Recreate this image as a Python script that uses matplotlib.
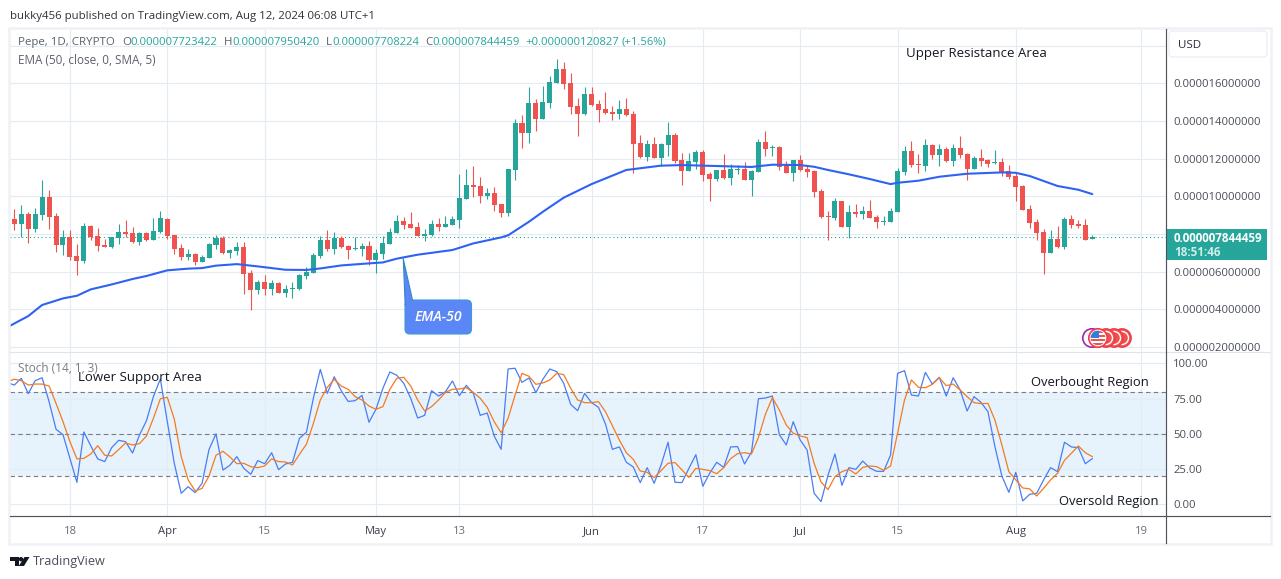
import numpy as np
import matplotlib
matplotlib.use('Agg')
import matplotlib.pyplot as plt
from matplotlib.patches import Rectangle, FancyBboxPatch, Polygon, Circle

plt.rcParams['font.family'] = ['Open Sans', 'DejaVu Sans']

W, H = 1281, 579

# prices are in units of 1e-6. bar 0 = 10 March
bar_open = [8.78,8.53,9.06,8.26,9.01,9.96,8.95,7.41,7.84,6.83,
    6.56,8.42,7.89,7.41,7.31,7.79,8.11,8.05,7.57,8.05,
    7.68,8.11,8.79,7.94,7.25,6.78,6.94,6.51,6.72,7.41,
    7.79,6.99,7.10,7.31,5.93,5.02,5.45,5.08,5.40,4.86,
    5.09,5.08,5.77,5.93,6.83,7.68,7.20,7.79,7.36,7.20,
    7.20,7.36,6.62,6.94,7.47,8.05,8.69,8.53,8.37,7.89,
    7.94,8.53,8.37,8.48,8.74,9.86,10.60,10.55,10.02,10.18,
    9.59,9.11,11.40,13.89,13.36,14.95,14.10,14.95,16.02,16.76,
    16.02,14.80,14.37,15.43,14.90,14.64,14.48,14.37,14.64,14.37,
    12.83,12.09,12.78,12.03,12.72,13.26,11.93,11.34,11.82,12.35,
    11.18,10.92,11.40,10.97,11.41,11.45,10.87,11.29,12.88,12.58,
    12.62,11.66,11.24,11.93,11.45,11.34,10.28,8.95,8.85,9.75,
    8.37,9.17,9.06,9.22,8.90,8.65,8.64,9.17,11.29,12.40,
    11.72,11.61,12.72,12.19,12.51,11.87,12.56,12.25,11.45,12.03,
    11.93,11.77,11.82,11.34,11.08,10.55,9.33,8.64,8.11,6.99,
    7.73,7.31,8.79,8.53,8.48,7.72]
bar_close = [8.53,9.06,8.26,9.06,9.96,8.90,7.41,7.84,6.78,6.56,
    8.42,7.84,7.36,7.31,7.82,8.11,8.00,7.57,8.05,7.68,
    8.16,8.85,7.89,7.20,6.78,6.94,6.51,6.78,7.47,7.79,
    6.99,7.15,7.31,5.87,5.02,5.45,5.08,5.40,4.86,5.08,
    5.13,5.82,5.98,6.88,7.68,7.20,7.79,7.31,7.15,7.25,
    7.36,6.62,6.99,7.52,8.11,8.69,8.48,8.32,7.89,8.00,
    8.53,8.37,8.53,8.79,9.91,10.60,10.49,10.02,10.18,9.54,
    9.11,11.45,13.89,13.36,14.95,14.10,15.01,16.07,16.76,15.96,
    14.74,14.37,15.43,14.85,14.58,14.42,14.37,14.64,14.32,12.78,
    12.09,12.78,12.03,12.78,13.26,11.87,11.34,11.87,12.35,11.13,
    10.92,11.40,10.97,11.45,11.45,10.87,11.34,12.88,12.51,12.62,
    11.56,11.24,11.93,11.40,11.29,10.23,8.90,8.88,9.75,8.37,
    9.17,9.06,9.22,8.85,8.64,8.69,9.22,11.34,12.40,11.66,
    11.66,12.72,12.19,12.51,11.87,12.56,12.19,11.45,12.03,11.87,
    11.72,11.82,11.29,11.02,10.49,9.27,8.58,8.05,6.99,7.73,
    7.31,8.79,8.48,8.42,7.68,7.84]
bar_high = [9.33,9.54,9.15,9.38,10.87,10.34,9.10,8.21,8.21,7.47,
    8.58,8.48,8.32,7.73,7.84,8.53,8.74,8.37,8.11,8.11,
    8.85,9.22,8.85,7.94,7.47,7.20,6.99,6.88,7.52,7.94,
    7.89,7.20,7.57,7.57,6.09,5.56,5.82,5.56,5.45,5.29,
    5.45,5.87,6.25,6.99,7.89,8.21,8.11,7.89,7.41,7.84,
    7.52,7.63,7.20,7.89,8.32,9.01,8.92,9.17,8.64,8.26,
    8.74,8.85,8.95,8.95,11.18,11.45,11.61,11.02,10.44,10.49,
    9.59,11.45,14.10,14.32,15.80,15.17,15.86,16.39,17.29,17.13,
    16.55,15.22,15.80,15.80,15.11,15.54,14.80,15.11,15.22,14.53,
    13.26,12.99,13.15,12.85,13.94,13.36,12.30,12.30,12.46,12.46,
    11.29,11.40,12.25,11.72,11.66,11.82,11.40,13.04,13.47,12.72,
    12.67,11.87,11.93,12.19,11.66,11.40,10.39,9.22,9.91,9.75,
    9.54,9.59,9.48,9.80,9.01,8.95,9.38,11.50,12.67,12.94,
    12.25,13.04,12.78,12.78,12.64,12.78,13.20,12.30,12.14,12.51,
    11.98,12.46,12.03,11.66,11.29,10.60,9.54,8.79,8.26,8.21,
    8.42,8.90,9.01,8.74,8.79,7.95]
bar_low = [8.21,7.86,7.54,8.11,8.74,8.26,7.04,6.88,6.62,5.82,
    6.46,7.68,7.10,7.31,7.25,7.47,7.84,7.52,7.41,7.63,
    7.68,8.05,7.73,6.94,6.62,6.62,6.35,6.51,6.72,7.20,
    6.94,6.72,6.88,4.81,3.96,4.81,4.76,4.76,4.86,4.65,
    4.60,5.02,5.61,5.93,6.72,7.10,6.94,7.25,6.67,7.15,
    6.83,6.35,5.93,6.67,7.47,8.05,8.26,8.32,7.89,7.63,
    7.89,8.16,8.37,8.48,8.32,9.86,9.96,9.64,9.86,9.22,
    8.90,8.95,10.87,12.56,12.83,13.47,14.10,14.69,16.02,15.70,
    14.37,13.20,14.32,14.80,13.94,14.37,14.05,14.10,14.26,11.24,
    12.03,11.87,12.03,11.61,12.14,11.77,10.60,11.34,11.45,10.81,
    9.75,10.81,10.92,10.60,11.18,10.87,10.02,11.29,12.14,12.14,
    11.40,11.24,10.81,11.34,11.02,9.96,8.85,7.68,8.74,8.37,
    7.79,8.90,8.79,8.85,8.32,8.48,8.64,9.17,11.13,11.56,
    11.24,11.34,11.98,11.61,11.82,11.61,12.03,10.87,11.45,11.61,
    11.56,11.72,11.08,10.92,9.75,9.27,8.32,7.68,5.87,6.99,
    7.25,7.20,8.32,8.32,7.68,7.71]

ema_bars = [-1,2,4,7,9,11,14,17,19,22,25,27,29,32,35,39,42,44,47,51,53,55,58,63,66,70,71,
    74,76,79,83,88,93,96,101,106,109,113,115,117,120,123,126,127,130,133,137,142,144,146,150,153,155]
ema_values = [3.05,3.64,4.23,4.58,4.72,5.06,5.32,5.61,5.77,6.07,6.16,6.19,6.32,6.40,6.28,6.10,6.09,6.17,6.33,6.44,6.49,6.69,6.90,7.15,7.50,7.82,7.93,
    8.65,9.18,9.93,10.65,11.40,11.63,11.66,11.61,11.56,11.68,11.66,11.57,11.40,11.17,10.92,10.65,10.72,10.83,11.04,11.20,11.27,11.25,11.08,10.55,10.35,10.12]

# stochastic, first value is bar -1 (cut by the left edge)
stoch_k = [86.3,84.6,89.4,78.5,87.7,89.8,72.8,53.2,49.4,32.6,15.6,
    51.3,41.4,32.2,30.3,40.2,45.4,44.4,36.4,49.2,59.3,
    76.4,88.9,58.6,29.1,7.8,12.5,8.3,14.9,39.0,49.9,
    24.3,27.7,33.8,25.5,21.3,31.0,28.8,36.6,24.6,28.6,
    29.8,46.8,51.1,75.2,95.7,78.7,90.5,80.6,73.0,73.5,
    77.3,58.2,67.4,82.3,93.9,91.5,85.8,75.2,61.2,63.1,
    80.6,76.8,79.9,87.5,77.1,84.4,78.7,63.1,64.8,48.5,
    39.0,96.0,96.5,86.5,89.6,79.2,88.7,96.0,94.1,85.8,
    70.9,66.4,78.7,72.1,68.8,57.0,39.0,40.7,29.8,26.5,
    15.4,26.0,14.9,27.9,44.0,15.6,15.4,25.5,35.2,12.8,
    22.2,29.8,26.2,40.7,40.9,28.6,37.1,74.9,75.4,76.8,
    49.4,42.1,58.6,45.6,38.5,7.8,1.9,20.6,35.7,13.5,
    26.0,24.8,30.7,25.8,23.4,23.4,35.0,92.9,94.8,77.5,
    76.8,93.6,85.3,90.1,76.8,89.8,81.1,66.2,76.4,72.3,
    65.7,40.9,20.1,8.5,22.7,2.4,7.1,7.8,17.3,26.0,
    23.2,44.0,40.7,40.2,28.8,32.4]
stoch_d = [87.0,88.7,87.7,84.6,85.3,85.3,83.9,71.6,58.6,44.4,32.2,
    32.6,35.7,41.6,34.8,34.3,38.8,43.5,42.1,43.0,48.5,
    61.0,74.9,75.9,60.5,33.8,17.3,9.5,11.3,20.1,34.8,
    37.6,33.6,28.8,29.1,26.7,26.0,27.2,32.2,30.3,30.0,
    27.9,35.5,42.6,57.4,74.0,83.0,88.7,83.9,81.6,76.4,
    74.0,69.7,67.4,69.3,81.6,89.4,90.1,83.9,74.0,66.2,
    69.3,74.0,79.4,81.6,81.8,82.7,79.4,75.2,68.8,58.6,
    50.8,61.0,77.5,92.9,90.8,85.1,86.1,88.2,92.9,92.0,
    82.3,74.0,72.1,72.1,72.8,65.7,55.6,45.6,36.6,31.9,
    23.6,22.7,18.9,23.9,29.1,29.6,24.3,19.1,25.5,24.8,
    23.9,21.7,26.0,32.4,35.9,36.6,35.7,47.5,63.8,75.7,
    66.9,56.3,50.4,48.5,47.3,29.1,15.8,10.4,19.6,23.2,
    24.8,21.5,26.2,27.2,26.7,24.1,27.2,50.4,74.0,88.2,
    83.0,82.7,85.1,89.8,84.2,85.3,81.1,76.4,72.1,71.4,
    71.6,59.8,42.1,23.2,17.3,11.6,10.9,5.9,11.3,17.3,
    22.0,31.2,36.2,41.4,36.6,33.8]

last_price = 7.844459
price_ticks = [2, 4, 6, 8, 10, 12, 14, 16, 18]
price_labels = ['0.000002000000', '0.000004000000', '0.000006000000', '', '0.000010000000',
                '0.000012000000', '0.000014000000', '0.000016000000', '']
stoch_ticks = [0, 25, 50, 75, 100]
stoch_labels = ['0.00', '25.00', '50.00', '75.00', '100.00']
date_ticks = [8, 22, 36, 52, 64, 83, 99, 113, 127, 144, 162]
date_labels = ['18', 'Apr', '15', 'May', '13', 'Jun', '17', 'Jul', '15', 'Aug', '19']

GREEN = '#26a69a'
RED = '#ef5350'
GRID = '#e3ebf3'
AXIS = '#50535e'
LABEL = '#4a4e59'
TEXT_PX = 0.72  # points per pixel at dpi 100


def pane(x0, y0, x1, y1):
    return fig.add_axes([x0 / W, 1 - y1 / H, (x1 - x0) / W, (y1 - y0) / H])


fig = plt.figure(figsize=(W / 100, H / 100), dpi=100, facecolor='white')

ax = pane(10, 29.5, 1166, 351.5)
ax2 = pane(10, 351.5, 1166, 516)
xlim = (-0.62, 165.6)

for a in (ax, ax2):
    a.set_xlim(*xlim)
    a.set_axisbelow(True)
    a.grid(True, color=GRID, lw=0.8)
    a.yaxis.tick_right()
    a.tick_params(length=0, labelsize=11.2 * TEXT_PX, labelcolor=LABEL, pad=5.3)
    for s in a.spines.values():
        s.set_visible(False)

# price pane
ax.set_ylim(1.76, 18.86)
ax.set_yticks(price_ticks)
ax.set_yticklabels(price_labels)
ax.set_xticks(date_ticks)
ax.tick_params(labelbottom=False)

bars = np.arange(len(bar_open))
o = np.array(bar_open)
c = np.array(bar_close)
colors = [GREEN if cl >= op else RED for op, cl in zip(bar_open, bar_close)]
ax.vlines(bars, bar_low, bar_high, colors=colors, lw=0.8, zorder=3)
body = np.maximum(np.abs(c - o), 0.06)
ax.bar(bars, body, bottom=np.minimum(o, c), width=0.72, color=colors, lw=0, zorder=4)
ax.axhline(last_price, color=GREEN, lw=0.8, ls=(0, (1, 2.5)), zorder=2)
ax.plot(ema_bars, ema_values, color='#2f62f3', lw=1.5, zorder=5, solid_capstyle='round')

# stochastic pane
ax2.set_ylim(-8.3, 108.4)
ax2.set_yticks(stoch_ticks)
ax2.set_yticklabels(stoch_labels)
ax2.set_xticks(date_ticks)
ax2.set_xticklabels(date_labels)
ax2.tick_params(axis='x', pad=7.4, labelcolor='#6a6d78')
for t, s in zip(ax2.get_xticklabels(), date_labels):
    if s.isalpha():
        t.set_color('#3c3f4a')
ax2.axhspan(20, 80, color='#2196f3', alpha=0.11, lw=0, zorder=0.5)
for lev in (80, 50, 20):
    ax2.axhline(lev, color='#787b86', lw=0.8, ls=(0, (4, 3)), zorder=1.5)
stoch_x = np.arange(-1, len(stoch_k) - 1)
ax2.plot(stoch_x, stoch_k, color='#4a7df2', lw=0.9, zorder=3)
ax2.plot(stoch_x, stoch_d, color='#f57a1f', lw=0.9, zorder=4)

# everything else lives on a pixel overlay
ov = fig.add_axes([0, 0, 1, 1], zorder=10)
ov.set_xlim(0, W)
ov.set_ylim(H, 0)
ov.axis('off')
ov.patch.set_alpha(0)

frame = '#eff1f7'
ov.add_patch(Rectangle((9, 28), 1262, 516, fill=False, ec=frame, lw=1.8))
ov.plot([10, 1270], [351.5, 351.5], color='#e0e3eb', lw=0.8)
ov.plot([10, 1270], [516, 516], color=AXIS, lw=0.85)
ov.plot([1166, 1166], [29, 543], color=AXIS, lw=0.85)


def label(x, y, s, size=12, color='#131722', **kw):
    kw.setdefault('va', 'center')
    # va=center sits about a pixel high for this font
    return ov.text(x, y + 1, s, fontsize=size * TEXT_PX, color=color, **kw)


label(10, 15, 'bukky456 published on TradingView.com, Aug 12, 2024 06:08 UTC+1', 11.45, '#30333c')
grey = '#5d606b'
label(18, 41.5, 'Pepe, 1D, CRYPTO', 11.5, grey)
for x, s in [(122.5, 'O'), (224, 'H'), (326, 'L'), (425, 'C')]:
    label(x, 41.5, s, 11.5, grey)
for x, s in [(130.5, '0.000007723422'), (232, '0.000007950420'), (332, '0.000007708224'),
             (432, '0.000007844459'), (525, '+0.000000120827'), (622, '(+1.56%)')]:
    label(x, 41.5, s, 11.2, GREEN)
label(18, 59, 'EMA (50, close, 0, SMA, 5)', 11.8, grey)
label(18, 367, 'Stoch (14, 1, 3)', 11.8, '#787b86')

label(906, 52, 'Upper Resistance Area', 13.2)
label(78, 376, 'Lower Support Area', 13.2)
label(1031, 381.5, 'Overbought Region', 13)
label(1059, 500.5, 'Oversold Region', 13)

# USD box
ov.add_patch(FancyBboxPatch((1172, 34), 92, 20, boxstyle='round,pad=3,rounding_size=4',
                            fc='white', ec='#eceef5', lw=1.0))
label(1178, 44, 'USD', 11.5, '#2a2e39')

# last price tag
ov.add_patch(Rectangle((1166, 229), 100.5, 31, fc=GREEN, ec='none'))
label(1174, 237, '0.000007844459', 11.6, 'white', fontweight='bold')
label(1174, 251.5, '18:51:46', 11.6, '#cfeeea', fontweight='bold')

# EMA-50 callout
ov.add_patch(FancyBboxPatch((407, 302), 62.5, 30, boxstyle='round,pad=2,rounding_size=5',
                            fc='#5b86f5', ec='#3f9ad6', lw=0.8))
ov.add_patch(Polygon([(403.3, 259), (412.5, 301), (405.5, 312)], closed=True,
                     fc='#5b86f5', ec='none'))
ov.plot([403.3, 405.2], [259, 305], color='#2f86c9', lw=0.8)
ov.plot([403.3, 412.5], [259, 300], color='#2f86c9', lw=0.8)
label(438.5, 316, 'EMA-50', 14, 'white', ha='center', style='italic', fontweight='semibold')

# flag icons
cy = 338
ov.add_patch(Circle((1092, cy), 9.2, fc='white', ec='#9c27b0', lw=1.2))
for cx in (1122, 1114, 1106):
    ov.add_patch(Circle((cx, cy), 9.2, fc='#ef5350', ec='#ef3b47', lw=1))
    ov.add_patch(Circle((cx, cy), 7.2, fc='white', ec='none'))
    ov.add_patch(Circle((cx, cy), 5.8, fc='#ef5350', ec='none'))
ov.add_patch(Circle((1098, cy), 9.2, fc='white', ec='#ef3b47', lw=1.2))
clip = Circle((1098, cy), 7.4, transform=ov.transData)
for i, yy in enumerate([331, 335, 339, 343]):
    st = ov.add_patch(Rectangle((1090, yy), 17, 2.2, fc='#ef5350', ec='none'))
    st.set_clip_path(clip)
canton = ov.add_patch(Rectangle((1090, 330), 8.5, 7.5, fc='#2f7fe0', ec='none'))
canton.set_clip_path(clip)

# TradingView logo and name
ov.add_patch(Polygon([(10, 557), (19, 557), (19, 566), (14.5, 566), (14.5, 561), (10, 561)], fc='#131722', ec='none'))
ov.add_patch(Circle((21, 559.2), 2.2, fc='#131722', ec='none'))
ov.add_patch(Polygon([(24.5, 557), (29.5, 557), (24, 566), (18.8, 566)], fc='#131722', ec='none'))
label(33, 561, 'TradingView', 12.6, '#4a4e59')

# the lowest price label is cut by the pane border
for t in ax.get_yticklabels():
    t.set_clip_on(True)
    t.set_clip_box(matplotlib.transforms.Bbox([[1166, H - 351], [1272, H - 29]]))

fig.savefig('out.png', dpi=100)
